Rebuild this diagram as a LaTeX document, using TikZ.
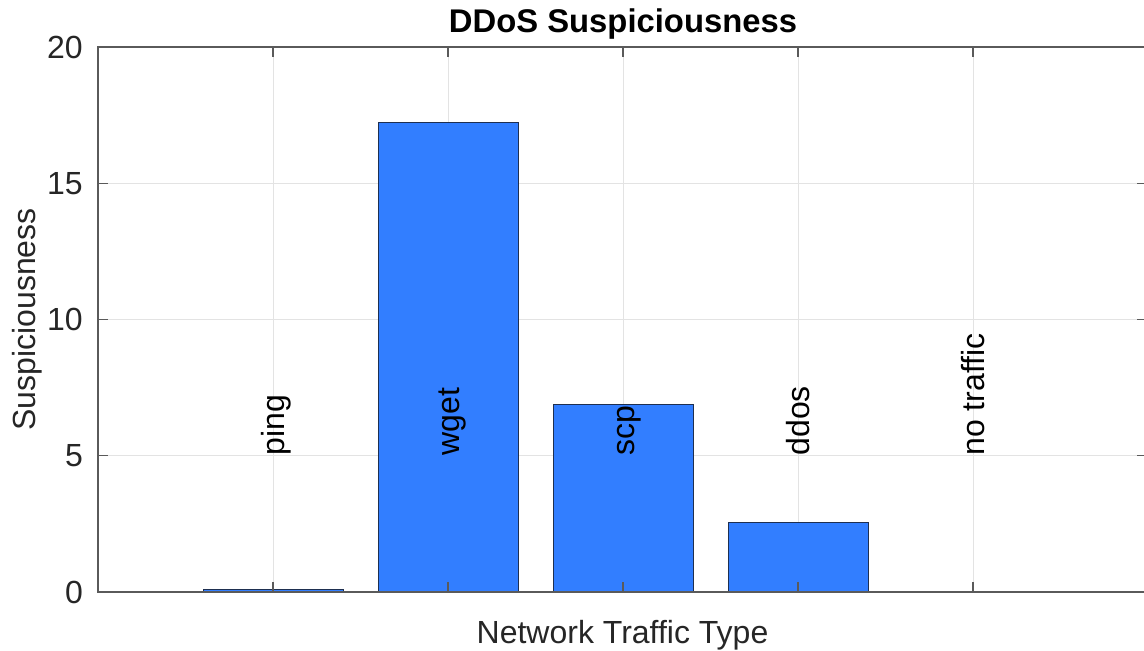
\documentclass[tikz,border=0pt]{standalone}
\usepackage{fontspec}
\setmainfont{Liberation Sans}
\begin{document}
\begin{tikzpicture}[x=1pt,y=1pt,
  axisline/.style={draw=axgray,line width=1.1pt},
  gridline/.style={draw=gridgray,line width=0.9pt},
  tickmark/.style={draw=axgray,line width=1.1pt},
  bar/.style={fill=barblue,draw=baredge,line width=0.9pt},
  ticklabel/.style={font=\fontsize{32}{32}\selectfont,text=ticktext,inner sep=0pt},
  barlabel/.style={font=\fontsize{32}{32}\selectfont,text=black,inner sep=0pt,rotate=90,anchor=base west},
  axlabel/.style={font=\fontsize{32}{32}\selectfont,text=ticktext,inner sep=0pt},
  titletext/.style={font=\fontsize{32.8}{32.8}\selectfont\bfseries,text=black,inner sep=0pt}]
\definecolor{axgray}{HTML}{5A5A5A}
\definecolor{gridgray}{HTML}{E3E3E3}
\definecolor{barblue}{HTML}{327EFF}
\definecolor{baredge}{HTML}{1E2F50}
\definecolor{ticktext}{HTML}{262626}
\useasboundingbox (0,0) rectangle (1144,651);
\fill[white] (0,0) rectangle (1144,651);
\clip (0,0) rectangle (1144,651);
% plot area: x in pixels, y in data units
\begin{scope}[shift={(0,59)},y=27.25pt]
  % grid
  \foreach \v in {5,10,15}
    \draw[gridline] (98,\v) -- (1147,\v);
  \foreach \c in {273,448,623,798,973}
    \draw[gridline] (\c,0) -- (\c,20);
  % bars
  \draw[bar] (203,0) rectangle (343,0.08);
  \draw[bar] (378,0) rectangle (518,17.22);
  \draw[bar] (553,0) rectangle (693,6.9);
  \draw[bar] (728,0) rectangle (868,2.57);
  \draw[draw=baredge,line width=0.9pt] (903,0) -- (1043,0);
  % axes box
  \draw[axisline] (98,0) rectangle (1147,20);
  % ticks
  \foreach \v in {0,5,...,20} {
    \draw[tickmark] (98,\v) -- (108,\v);
    \draw[tickmark] (1147,\v) -- (1137,\v);
  }
  \foreach \c in {273,448,623,798,973} {
    \draw[tickmark] (\c,0) -- (\c,0.367);
    \draw[tickmark] (\c,20) -- (\c,19.633);
  }
  % tick labels
  \foreach \v in {0,5,10,15,20}
    \node[ticklabel,anchor=east] (t\v) at (83,\v) {\v};
  % bar labels
  \node[barlabel] (lping) at (284,5) {ping};
  \node[barlabel] (lwget) at (459,5) {wget};
  \node[barlabel] (lscp) at (634,5) {scp};
  \node[barlabel] (lddos) at (809,5) {ddos};
  \node[barlabel] (lnone) at (984,5) {no traffic};
  \node[axlabel,rotate=90,anchor=base] (ylab) at (35,10) {Suspiciousness};
\end{scope}
% axis label and title
\node[axlabel,anchor=base] (xlab) at (622.5,8) {Network Traffic Type};
\node[titletext,anchor=base] (title) at (623,618) {DDoS Suspiciousness};
\end{tikzpicture}
\end{document}
